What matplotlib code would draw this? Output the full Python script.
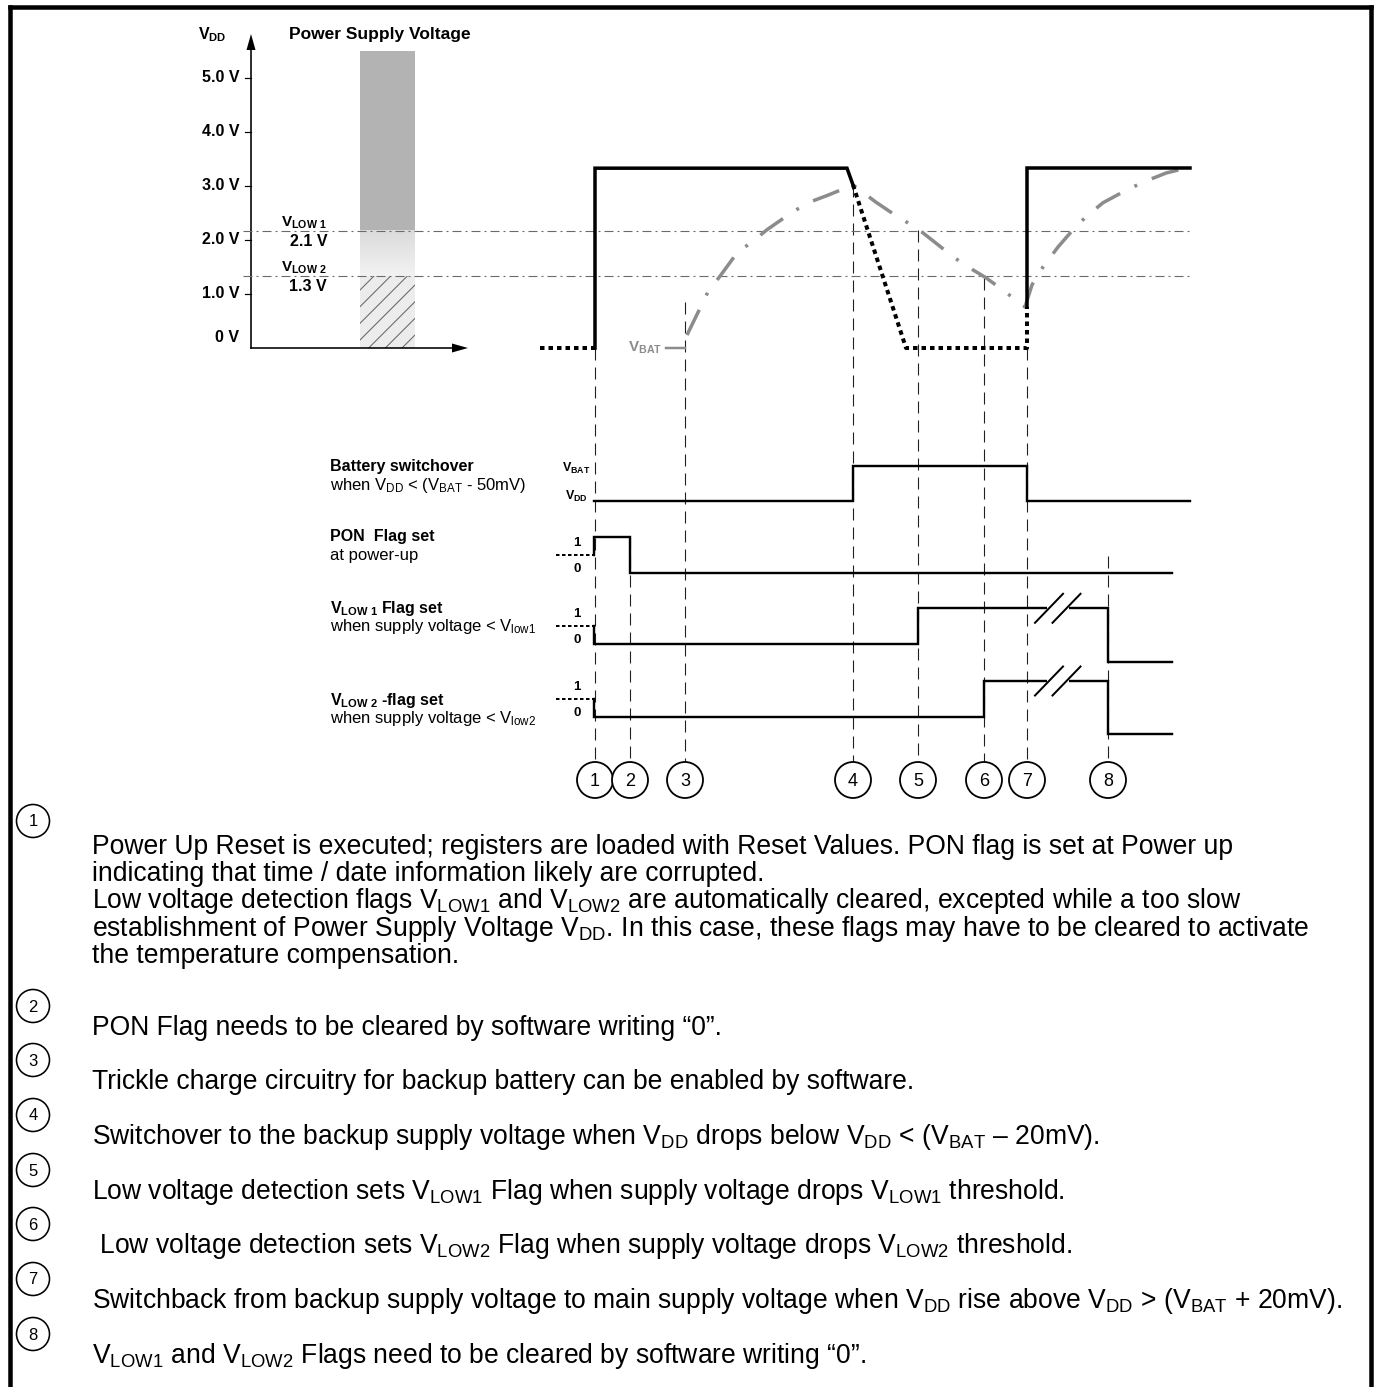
import matplotlib
matplotlib.use('Agg')
import matplotlib.pyplot as plt
import numpy as np
from matplotlib.patches import Rectangle, Circle, Polygon

plt.rcParams['font.family'] = ['Liberation Sans', 'DejaVu Sans']
plt.rcParams['mathtext.fontset'] = 'custom'
plt.rcParams['mathtext.rm'] = 'Liberation Sans'
plt.rcParams['mathtext.it'] = 'Liberation Sans:italic'
plt.rcParams['mathtext.bf'] = 'Liberation Sans:bold'
plt.rcParams['lines.scale_dashes'] = False
plt.rcParams['hatch.linewidth'] = 0.8
plt.rcParams['hatch.color'] = '#6e6e6e'

# ---------------- data ----------------
volt_ticks = [1.0, 2.0, 3.0, 4.0, 5.0]
volt_tick_labels = ['1.0 V', '2.0 V', '3.0 V', '4.0 V', '5.0 V']
zero_label = '0 V'
vlow_levels = [2.17, 1.33]
vlow_names = [r'$\mathbf{V}_{\mathbf{LOW\ 1}}$', r'$\mathbf{V}_{\mathbf{LOW\ 2}}$']
vlow_values = ['2.1 V', '1.3 V']
bar_top = 5.5

# VDD waveform (time in arbitrary units, voltage in V)
vdd_t = [540, 595, 595, 847, 853, 906, 1027, 1027, 1027, 1190]
vdd_v = [0.0, 0.0, 3.33, 3.33, 3.02, 0.0, 0.0, 0.76, 3.33, 3.33]
vdd_solid = [False, True, True, True, False, False, False, True, True]

# VBAT waveform
vbat_t = [687, 708, 720, 737, 753, 767, 791, 808, 828, 853,
          876, 892, 919, 947, 962, 986, 1003, 1025,
          1032, 1043, 1058, 1073, 1086, 1103, 1123, 1143, 1166, 1190]
vbat_v = [0.24, 1.04, 1.33, 1.76, 1.98, 2.19, 2.50, 2.69, 2.83, 3.02,
          2.70, 2.50, 2.19, 1.78, 1.57, 1.30, 1.07, 0.76,
          1.17, 1.50, 1.87, 2.19, 2.43, 2.69, 2.89, 3.07, 3.24, 3.35]

# events
event_ids = ['1', '2', '3', '4', '5', '6', '7', '8']
event_t = [595, 630, 685, 853, 918, 984, 1027, 1108]

# logic signals: edges and levels (1 = set / VBAT, 0 = clear / VDD)
bs_t = [594, 853, 1027, 1190]
bs_lvl = [0, 1, 0]
pon_t = [594, 630, 1172]
pon_lvl = [1, 0]
vlow1_t = [594, 918, 1108, 1172]
vlow1_lvl = [0, 1, -0.5]
vlow2_t = [594, 984, 1108, 1172]
vlow2_lvl = [0, 1, -0.5]
undefined_lvl = 0.5

row_titles = ['Battery switchover', 'PON  Flag set',
              r'$\mathbf{V}_{\mathbf{LOW\ 1}}$ Flag set',
              r'$\mathbf{V}_{\mathbf{LOW\ 2}}$ -flag set']
row_subtitles = [r'when $\mathrm{V}_{\mathrm{DD}}$ < ($\mathrm{V}_{\mathrm{BAT}}$ - 50mV)',
                 'at power-up',
                 r'when supply voltage < $\mathrm{V}_{\mathrm{low1}}$',
                 r'when supply voltage < $\mathrm{V}_{\mathrm{low2}}$']

notes = [
    ['Power Up Reset is executed; registers are loaded with Reset Values. PON flag is set at Power up',
     'indicating that time / date information likely are corrupted.',
     r'Low voltage detection flags $\mathrm{V}_{\mathrm{LOW1}}$ and $\mathrm{V}_{\mathrm{LOW2}}$ are automatically cleared, excepted while a too slow',
     r'establishment of Power Supply Voltage $\mathrm{V}_{\mathrm{DD}}$. In this case, these flags may have to be cleared to activate',
     'the temperature compensation.'],
    ['PON Flag needs to be cleared by software writing “0”.'],
    ['Trickle charge circuitry for backup battery can be enabled by software.'],
    [r'Switchover to the backup supply voltage when $\mathrm{V}_{\mathrm{DD}}$ drops below $\mathrm{V}_{\mathrm{DD}}$ < ($\mathrm{V}_{\mathrm{BAT}}$ – 20mV).'],
    [r'Low voltage detection sets $\mathrm{V}_{\mathrm{LOW1}}$ Flag when supply voltage drops $\mathrm{V}_{\mathrm{LOW1}}$ threshold.'],
    [r' Low voltage detection sets $\mathrm{V}_{\mathrm{LOW2}}$ Flag when supply voltage drops $\mathrm{V}_{\mathrm{LOW2}}$ threshold.'],
    [r'Switchback from backup supply voltage to main supply voltage when $\mathrm{V}_{\mathrm{DD}}$ rise above $\mathrm{V}_{\mathrm{DD}}$ > ($\mathrm{V}_{\mathrm{BAT}}$ + 20mV).'],
    [r'$\mathrm{V}_{\mathrm{LOW1}}$ and $\mathrm{V}_{\mathrm{LOW2}}$ Flags need to be cleared by software writing “0”.'],
]

# ---------------- layout ----------------
W, H = 1377, 1387
DPI = 100
PT = 72.0 / DPI          # points per pixel
fig = plt.figure(figsize=(W / DPI, H / DPI), dpi=DPI)
fig.patch.set_facecolor('white')

ax = fig.add_axes([0, 0, 1, 1])
ax.set_xlim(0, W)
ax.set_ylim(H, 0)
ax.axis('off')

V0_PX, PX_PER_V = 348.0, 54.0
axv = fig.add_axes([0, 0, 1, 1])
axv.axis('off')
axv.patch.set_alpha(0)

# frame
fl = 4.5 * PT
ax.plot([9.5, 9.5], [6.7, H + 10], color='black', lw=fl, solid_capstyle='projecting')
ax.plot([9.5, 1370.5], [6.7, 6.7], color='black', lw=fl, solid_capstyle='projecting')
ax.plot([1370.5, 1370.5], [6.7, H + 10], color='black', lw=fl, solid_capstyle='projecting')

# ---------------- left voltage panel ----------------
AX_X = 251
axv.plot([AX_X, AX_X], [0, (V0_PX - 48) / PX_PER_V], color='black', lw=1.6 * PT)
ax.add_patch(Polygon([[AX_X - 4.5, 50], [AX_X + 4.5, 50], [AX_X, 34]], closed=True,
                     color='black', lw=0))
axv.plot([AX_X, 454], [0, 0], color='black', lw=1.6 * PT)
ax.add_patch(Polygon([[452, V0_PX - 4.5], [452, V0_PX + 4.5], [468, V0_PX]], closed=True,
                     color='black', lw=0))
for v, lab in zip(volt_ticks, volt_tick_labels):
    axv.plot([AX_X - 6, AX_X], [v, v], color='black', lw=1.2 * PT)
    axv.text(239, v, lab, ha='right', va='center', fontsize=11.5, fontweight='bold')
ax.text(239, 345, zero_label, ha='right', va='bottom', fontsize=11.5, fontweight='bold')
ax.text(212, 35, r'$\mathbf{V}_{\mathbf{DD}}$', ha='center', va='center', fontsize=11.5)
ax.text(289, 34, 'Power Supply Voltage', ha='left', va='center', fontsize=12.5,
        fontweight='bold')

# column
BX0, BX1 = 360, 415
axv.add_patch(Rectangle((BX0, vlow_levels[0]), BX1 - BX0, bar_top - vlow_levels[0],
                        facecolor='#b3b3b3', edgecolor='none', zorder=1))
grad = np.linspace(0.86, 0.95, 64).reshape(-1, 1)
axv.imshow(np.dstack([grad, grad, grad]), extent=[BX0, BX1, vlow_levels[1], vlow_levels[0]],
           origin='upper', aspect='auto', zorder=1, interpolation='bilinear')
axv.add_patch(Rectangle((BX0, 0), BX1 - BX0, vlow_levels[1],
                        facecolor='#ececec', edgecolor='#6e6e6e', lw=0, hatch='//', zorder=1))

# thresholds
for lv, nm, val in zip(vlow_levels, vlow_names, vlow_values):
    axv.plot([243, 1190], [lv, lv], color='#6a6a6a', lw=1.1 * PT,
             dashes=(9 * PT, 4 * PT, 2 * PT, 4 * PT), zorder=2)
    axv.text(327, lv + 8 / PX_PER_V, nm, ha='right', va='center', fontsize=11)
    axv.text(327, lv - 10.5 / PX_PER_V, val, ha='right', va='center', fontsize=11.5,
             fontweight='bold')

# ---------------- VDD / VBAT waveforms ----------------
i = 0
while i < len(vdd_solid):
    j = i
    while j + 1 < len(vdd_solid) and vdd_solid[j + 1] == vdd_solid[i]:
        j += 1
    xs = vdd_t[i:j + 2]
    ys = vdd_v[i:j + 2]
    if vdd_solid[i]:
        axv.plot(xs, ys, color='black', lw=3.5 * PT, solid_joinstyle='miter', zorder=4)
    else:
        axv.plot(xs, ys, color='black', lw=4 * PT, dashes=(4.5 * PT, 4 * PT),
                 dash_capstyle='butt', zorder=4)
    i = j + 1

axv.plot(vbat_t, vbat_v, color='#8c8c8c', lw=3.5 * PT,
         dashes=(28 * PT, 16 * PT, 3 * PT, 16 * PT), dash_capstyle='butt', zorder=3)
axv.plot([666, 685], [0, 0], color='#8c8c8c', lw=2.5 * PT, zorder=3)
axv.text(662, 0, r'$\mathbf{V}_{\mathbf{BAT}}$', ha='right', va='center', fontsize=11,
         color='#8c8c8c')

axv.set_xlim(0, W)
axv.set_ylim((V0_PX - H) / PX_PER_V, V0_PX / PX_PER_V)

# ---------------- event lines & circles ----------------
ev_top = [348, 537, 302, 185, 230, 278, 348, 556]
CY, CR = 780, 18
for t, top, lab in zip(event_t, ev_top, event_ids):
    ax.plot([t, t], [top, CY - CR], color='#202020', lw=1.1 * PT,
            dashes=(12 * PT, 7 * PT), zorder=2)
    ax.add_patch(Circle((t, CY), CR, facecolor='white', edgecolor='black', lw=1.8 * PT,
                        zorder=5))
    ax.text(t, CY + 1, lab, ha='center', va='center', fontsize=13, zorder=6)

# ---------------- timing rows ----------------
row_base = [500.7, 573.0, 644.3, 716.5]
row_h = [34.7, 36.0, 36.0, 35.5]
title_y = [466.7, 537.0, 608.5, 700.0]
SUB_DY = 18.5
signals = [(bs_t, bs_lvl, False), (pon_t, pon_lvl, True),
           (vlow1_t, vlow1_lvl, True), (vlow2_t, vlow2_lvl, True)]
SLW = 2.4 * PT
for k, ((tt, lv, undef), base, h) in enumerate(zip(signals, row_base, row_h)):
    xs, ys = [], []
    if undef:
        xs.append(tt[0]); ys.append(base - undefined_lvl * h)
        ax.plot([556, tt[0]], [base - undefined_lvl * h] * 2, color='black', lw=2 * PT,
                dashes=(3.5 * PT, 2.5 * PT), zorder=4)
    for n in range(len(lv)):
        xs += [tt[n], tt[n + 1]]
        ys += [base - lv[n] * h] * 2
    ax.plot(xs, ys, color='black', lw=SLW, solid_joinstyle='miter', zorder=4)
    if undef:
        ax.text(577, base - 30, '1', ha='center', va='center', fontsize=9.5, fontweight='bold')
        ax.text(577, base - 4, '0', ha='center', va='center', fontsize=9.5, fontweight='bold')
    ax.text(330, title_y[k], row_titles[k], ha='left', va='center', fontsize=11.5,
            fontweight='bold')
    ax.text(330, title_y[k] + SUB_DY, row_subtitles[k], ha='left', va='center', fontsize=12)

ax.text(576, 468, r'$\mathbf{V}_{\mathbf{BAT}}$', ha='center', va='center', fontsize=9)
ax.text(576, 496, r'$\mathbf{V}_{\mathbf{DD}}$', ha='center', va='center', fontsize=9)

# break marks on the flag rows
for base, h in zip(row_base[2:], row_h[2:]):
    yh = base - h
    ax.plot([1049, 1066], [yh, yh], color='white', lw=5 * PT, zorder=5)
    for cx in (1049, 1066.5):
        ax.plot([cx - 14, cx + 14], [yh + 14.5, yh - 14.5], color='black', lw=2 * PT,
                zorder=6)

# ---------------- notes ----------------
NX, CX, LR = 92, 33, 16.5
note_circle_y = [821, 1006, 1060, 1115, 1170, 1224, 1279, 1334]
note_text_dy = [26, 22, 22, 22, 22, 22, 22, 22]
LINE = 27.2
for idx, (lines, cy) in enumerate(zip(notes, note_circle_y)):
    ax.add_patch(Circle((CX, cy), LR, facecolor='white', edgecolor='black', lw=1.6 * PT))
    ax.text(CX, cy + 1, str(idx + 1), ha='center', va='center', fontsize=12)
    y0 = cy + note_text_dy[idx]
    for m, ln in enumerate(lines):
        ax.text(NX, y0 + m * LINE, ln, ha='left', va='center', fontsize=19.1)

fig.savefig('out.png', dpi=DPI, facecolor='white')
